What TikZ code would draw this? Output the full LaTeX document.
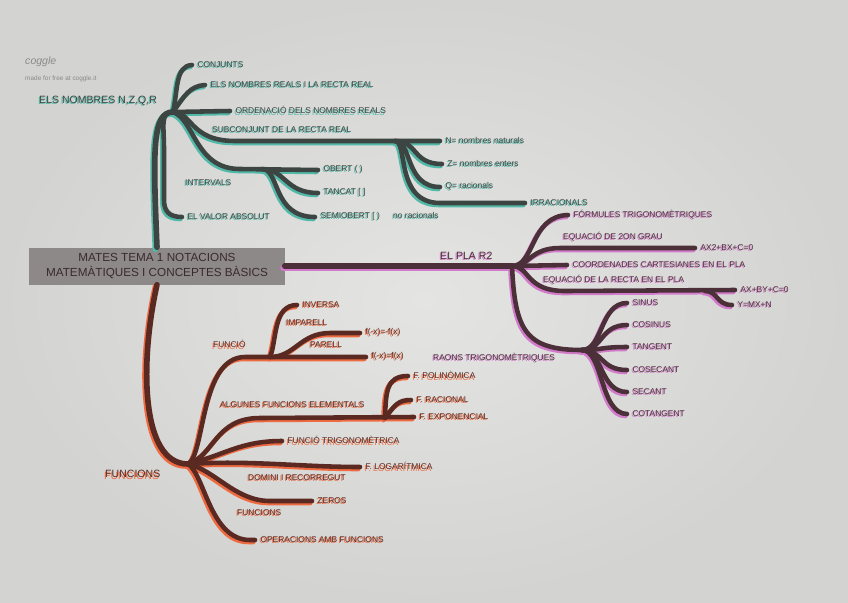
\documentclass[tikz,border=0pt]{standalone}
\usepackage{fontspec}
\setmainfont{Liberation Sans}
\definecolor{paperA}{HTML}{E4E4E2}
\definecolor{paperB}{HTML}{D3D3D1}
\definecolor{topdark}{HTML}{3C4541}
\definecolor{topgh}{HTML}{52B9A8}
\definecolor{rdark}{HTML}{4B3039}
\definecolor{rgh}{HTML}{D27BCB}
\definecolor{bdark}{HTML}{5A2A22}
\definecolor{bgh}{HTML}{EE6B42}
\definecolor{boxgray}{HTML}{8D8989}
\definecolor{boxtext}{HTML}{3A2A2E}
\definecolor{cogg}{HTML}{8A8A8A}
\newcommand\gtx[2]{\makebox[0pt][l]{\kern-1.0pt\raisebox{-1.1pt}{\textcolor{#1}{#2}}}#2}
\tikzset{
  itm/.style={anchor=west, inner xsep=4.5pt, inner ysep=1pt, font=\fontsize{7.2}{8}\selectfont},
  lab/.style={anchor=west, inner sep=0pt, font=\fontsize{7.2}{8}\selectfont},
  big/.style={anchor=west, inner sep=0pt, font=\fontsize{9}{10}\selectfont},
  itmT/.style={itm, text=topdark}, labT/.style={lab, text=topdark},
  itmR/.style={itm, text=rdark},   labR/.style={lab, text=rdark},
  itmB/.style={itm, text=bdark},   labB/.style={lab, text=bdark},
  conn/.style={line width=3.9pt, line cap=round},
  trunk/.style={line width=4.8pt},
  ghostshift/.style={transform canvas={xshift=-1.4pt,yshift=-1.7pt}},
}
% connector sets, drawn twice: coloured ghost then dark line
\newcommand\topconns[1]{%
  \draw[conn,#1, trunk] (main.north) .. controls (153,150) and (152,112) .. (th);
  \draw[conn,#1] (th) .. controls (178,90) and (175,66) .. (conj.west);
  \draw[conn,#1] (th) .. controls (185,95) and (190,86) .. (reals.west);
  \draw[conn,#1] (th) -- (ord.west);
  \draw[conn,#1] (th) .. controls (192,112) and (190,141) .. (235,141) -- (nnat.west);
  \draw[conn,#1] (sj) .. controls (418,141) and (412,164) .. (nz.west);
  \draw[conn,#1] (sj) .. controls (412,141) and (405,187) .. (nq.west);
  \draw[conn,#1] (sj) .. controls (408,141) and (395,203) .. (440,203) -- (irr.west);
  \draw[conn,#1] (th) .. controls (195,120) and (195,169) .. (240,169) -- (obert.west);
  \draw[conn,#1] (ih) .. controls (285,169) and (285,193) .. (tancat.west);
  \draw[conn,#1] (ih) .. controls (280,169) and (272,217) .. (semi.west);
  \draw[conn,#1] (th) .. controls (160,112) and (164,125) .. (164,150) -- (164,200) .. controls (164,212) and (170,217) .. (valor.west);
}
\newcommand\rightconns[1]{%
  \draw[conn,#1, trunk] (main.east) -- (rh);
  \draw[conn,#1] (rh) .. controls (535,266) and (530,216) .. (form.west);
  \draw[conn,#1] (rh) .. controls (530,266) and (530,248) .. (560,248) -- (ax2.west);
  \draw[conn,#1] (rh) -- (coord.west);
  \draw[conn,#1] (rh) .. controls (530,266) and (525,291) .. (565,291) -- (axby.west);
  \draw[conn,#1] (rr) .. controls (718,291) and (716,305) .. (ymx.west);
  \draw[conn,#1] (rh) .. controls (515,330) and (525,350) .. (rt);
  \foreach \n/\yy in {sin/303,cos/325,tan/347,csc/370,sec/392,cot/414}
    \draw[conn,#1] (rt) .. controls (603,350) and (600,\yy) .. (\n.west);
}
\newcommand\botconns[1]{%
  \draw[conn,#1, trunk] (main.south) .. controls (140,360) and (140,464) .. (bh);
  \draw[conn,#1] (bh) .. controls (205,455) and (200,357) .. (245,357) -- (fx.west);
  \draw[conn,#1] (sh) .. controls (277,340) and (273,305) .. (inv.west);
  \draw[conn,#1] (sh) .. controls (295,357) and (300,333) .. (330,333) -- (fmx.west);
  \draw[conn,#1] (bh) .. controls (215,455) and (215,418) .. (260,418) -- (fexp.west);
  \draw[conn,#1] (eh) .. controls (386,392) and (386,376) .. (pol.west);
  \draw[conn,#1] (eh) .. controls (395,405) and (398,400) .. (rac.west);
  \draw[conn,#1] (bh) .. controls (225,455) and (240,441) .. (trig.west);
  \draw[conn,#1] (bh) .. controls (250,460) and (300,467) .. (flog.west);
  \draw[conn,#1] (bh) .. controls (215,470) and (235,501) .. (270,501) -- (zer.west);
  \draw[conn,#1] (bh) .. controls (205,475) and (210,540) .. (250,540) -- (oper.west);
}
\begin{document}
\begin{tikzpicture}[x=0.03cm,y=-0.03cm]
\useasboundingbox (0,0) rectangle (848,602);
\shade[inner color=paperA, outer color=paperB] (0,0) rectangle (848,602);

% coggle watermark
\node[anchor=west, inner sep=0pt, text=cogg, font=\itshape\fontsize{9}{10}\selectfont] (cg) at (25,62) {coggle};
\node[anchor=west, inner sep=0pt, text=cogg, font=\fontsize{5.5}{6}\selectfont] (cgm) at (25,79) {made for free at coggle.it};

% main node
\node[fill=boxgray, text=boxtext, minimum width=7.65cm, minimum height=1.11cm, align=center,
      inner sep=2pt, font=\fontsize{10}{12}\selectfont] (main) at (157,266)
      {MATES TEMA 1 NOTACIONS\\MATEMÀTIQUES I CONCEPTES BÀSICS};

% ---------- top branch ----------
\coordinate (th) at (173,112);
\coordinate (sj) at (395,141);
\coordinate (ih) at (262,169);
\node[big, text=topdark] (lnum) at (39,101) {\gtx{topgh}{ELS NOMBRES N,Z,Q,R}};
\node[itmT] (conj) at (192,65) {\gtx{topgh}{CONJUNTS}};
\node[itmT] (reals) at (205,85) {\gtx{topgh}{ELS NOMBRES REALS I LA RECTA REAL}};
\node[itmT] (ord) at (230,111) {\gtx{topgh}{ORDENACIÓ DELS NOMBRES REALS}};
\node[labT] (lsub) at (212,130) {\gtx{topgh}{SUBCONJUNT DE LA RECTA REAL}};
\node[itmT] (nnat) at (440,141) {\gtx{topgh}{N= nombres naturals}};
\node[itmT] (nz) at (442,164) {\gtx{topgh}{Z= nombres enters}};
\node[itmT] (nq) at (440,187) {\gtx{topgh}{Q= racionals}};
\node[itmT] (irr) at (525,203) {\gtx{topgh}{IRRACIONALS}};
\node[labT] (lint) at (185,183) {\gtx{topgh}{INTERVALS}};
\node[itmT] (obert) at (318,170) {\gtx{topgh}{OBERT ( )}};
\node[itmT] (tancat) at (318,193) {\gtx{topgh}{TANCAT [ ]}};
\node[itmT] (semi) at (315,217) {\gtx{topgh}{SEMIOBERT [ )}};
\node[labT] (norac) at (393,216) {\gtx{topgh}{no racionals}};
\node[itmT] (valor) at (182,217) {\gtx{topgh}{EL VALOR ABSOLUT}};

% ---------- right branch ----------
\coordinate (rh) at (512,266);
\coordinate (rr) at (705,291);
\coordinate (rt) at (582,350);
\node[big, text=rdark] (lpla) at (440,256) {\gtx{rgh}{EL PLA R2}};
\node[itmR] (form) at (568,215) {\gtx{rgh}{FÓRMULES TRIGONOMÈTRIQUES}};
\node[labR] (leq2) at (563,237) {\gtx{rgh}{EQUACIÓ DE 2ON GRAU}};
\node[itmR] (ax2) at (695,248) {\gtx{rgh}{AX2+BX+C=0}};
\node[itmR] (coord) at (567,265) {\gtx{rgh}{COORDENADES CARTESIANES EN EL PLA}};
\node[labR] (lrec) at (543,280) {\gtx{rgh}{EQUACIÓ DE LA RECTA EN EL PLA}};
\node[itmR] (axby) at (735,290) {\gtx{rgh}{AX+BY+C=0}};
\node[itmR] (ymx) at (732,305) {\gtx{rgh}{Y=MX+N}};
\node[labR] (lraons) at (433,358) {\gtx{rgh}{RAONS TRIGONOMÈTRIQUES}};
\node[itmR] (sin) at (627,303) {\gtx{rgh}{SINUS}};
\node[itmR] (cos) at (627,325) {\gtx{rgh}{COSINUS}};
\node[itmR] (tan) at (627,347) {\gtx{rgh}{TANGENT}};
\node[itmR] (csc) at (627,370) {\gtx{rgh}{COSECANT}};
\node[itmR] (sec) at (627,392) {\gtx{rgh}{SECANT}};
\node[itmR] (cot) at (627,414) {\gtx{rgh}{COTANGENT}};

% ---------- bottom branch ----------
\coordinate (bh) at (188,464);
\coordinate (sh) at (270,357);
\coordinate (eh) at (385,418);
\node[big, text=bdark] (lfun) at (105,475) {\gtx{bgh}{FUNCIONS}};
\node[labB] (lfuncio) at (213,345) {\gtx{bgh}{FUNCIÓ}};
\node[itmB] (inv) at (297,305) {\gtx{bgh}{INVERSA}};
\node[labB] (limp) at (286,323) {\gtx{bgh}{IMPARELL}};
\node[labB] (lpar) at (310,345) {\gtx{bgh}{PARELL}};
\node[itmB] (fmx) at (360,333) {\gtx{bgh}{f(-x)=-f(x)}};
\node[itmB] (fx) at (366,357) {\gtx{bgh}{f(-x)=f(x)}};
\node[labB] (lelem) at (220,405) {\gtx{bgh}{ALGUNES FUNCIONS ELEMENTALS}};
\node[itmB] (pol) at (408,376) {\gtx{bgh}{F. POLINÒMICA}};
\node[itmB] (rac) at (411,400) {\gtx{bgh}{F. RACIONAL}};
\node[itmB] (fexp) at (414,417) {\gtx{bgh}{F. EXPONENCIAL}};
\node[itmB] (trig) at (282,441) {\gtx{bgh}{FUNCIÓ TRIGONOMÈTRICA}};
\node[itmB] (flog) at (360,467) {\gtx{bgh}{F. LOGARÍTMICA}};
\node[labB] (ldom) at (248,478) {\gtx{bgh}{DOMINI I RECORREGUT}};
\node[itmB] (zer) at (312,501) {\gtx{bgh}{ZEROS}};
\node[labB] (lfns) at (237,513) {\gtx{bgh}{FUNCIONS}};
\node[itmB] (oper) at (255,540) {\gtx{bgh}{OPERACIONS AMB FUNCIONS}};

% ---------- connectors ----------
\begin{scope}[ghostshift]
  \topconns{draw=topgh}
  \rightconns{draw=rgh}
  \botconns{draw=bgh}
\end{scope}
\topconns{draw=topdark}
\rightconns{draw=rdark}
\botconns{draw=bdark}
\end{tikzpicture}
\end{document}
